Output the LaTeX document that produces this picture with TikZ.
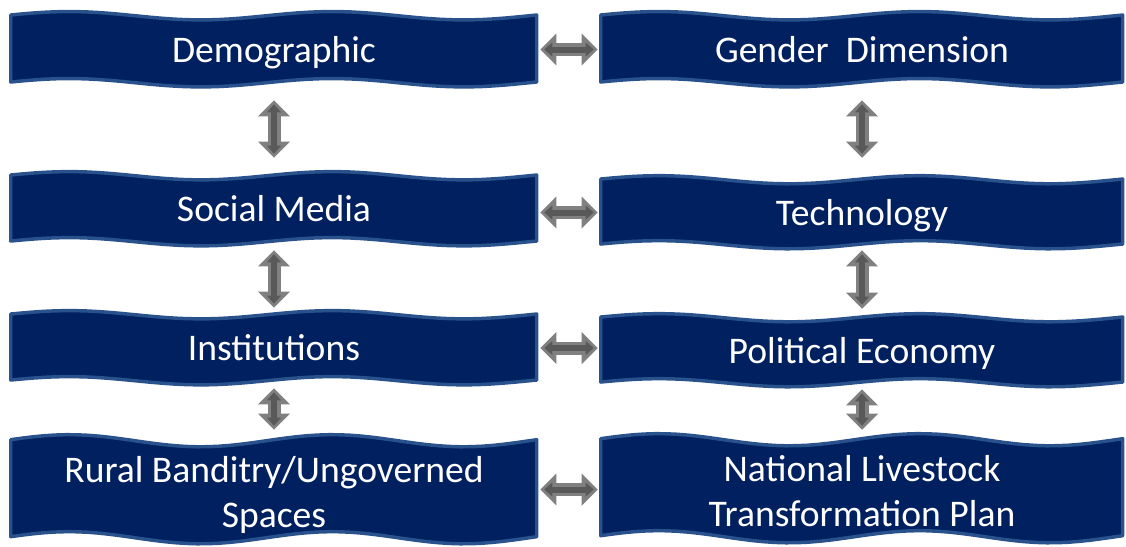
\documentclass[tikz,border=0pt]{standalone}
\usepackage{fontspec}
\setmainfont{Carlito}
\usepackage{tikz}
\usetikzlibrary{calc,arrows.meta,backgrounds}

\tikzset{
  wavetext/.style={inner sep=0pt, text=white, align=center, font=\fontsize{28.2}{33.75}\selectfont, text height=23.8pt, text depth=5pt},
  twolines/.style={text height=61.25pt, text depth=5pt},
  wavefill/.style={fill={rgb, 255:red, 0; green, 32; blue, 96}, draw={rgb, 255:red, 41; green, 82; blue, 140}, line width=2.6pt, line join=round},
  link/.style 2 args={draw={rgb, 255:red, 128; green, 128; blue, 128}, line width=9.75pt,
    {Triangle[length=12pt 0 0, width=24pt 0 0, line width=0pt 0 0]}-{Triangle[length=12pt 0 0, width=24pt 0 0, line width=0pt 0 0]},
    shorten <=#1, shorten >=#2,
    postaction={draw={rgb, 255:red, 89; green, 89; blue, 89}, line width=4.5pt,
      {Triangle[length=6pt 0 0, width=10.5pt 0 0, line width=0pt 0 0]}-{Triangle[length=6pt 0 0, width=10.5pt 0 0, line width=0pt 0 0]},
      shorten <={#1+3pt}, shorten >={#2+3pt}}}
}

% wavy band behind a node: #1 node, #2 width, #3 height (wave depth grows with height)
\newcommand{\wavebg}[3]{%
  \path[wavefill, shift={(#1.north west)}] plot[domain=0:#2, samples=49] (\x,{-0.0625*#3*sin(720*(\x/#2)+10)})
    -- plot[domain=#2:0, samples=49] (\x,{#3-0.0625*#3*sin(720*(\x/#2)+10)}) -- cycle;}

\begin{document}
\begin{tikzpicture}[x=0.75pt,y=0.75pt,yscale=-1,xscale=1]
      \useasboundingbox (0,0) rectangle (1126,546);

      % Text Node
      \node [wavetext, minimum width=394.5pt, minimum height=50.25pt] (demo) at (274,49.5) {Demographic};
      % Text Node
      \node [wavetext, minimum width=394.5pt, minimum height=49.5pt] (social) at (274,209) {Social Media};
      % Text Node
      \node [wavetext, minimum width=394.5pt, minimum height=49.5pt] (inst) at (274,348) {Institutions};
      % Text Node
      \node [wavetext, twolines, minimum width=394.5pt, minimum height=72.75pt] (rural) at (274,489.5) {Rural Banditry/Ungoverned\\Spaces};
      % Text Node
      \node [wavetext, minimum width=391.5pt, minimum height=50.25pt] (gender) at (862,49.5) {Gender~ Dimension};
      % Text Node
      \node [wavetext, minimum width=391.5pt, minimum height=48.75pt] (tech) at (862,212.5) {Technology};
      % Text Node
      \node [wavetext, minimum width=391.5pt, minimum height=48.75pt] (polit) at (862,350.5) {Political Economy};
      % Text Node
      \node [wavetext, twolines, minimum width=391.5pt, minimum height=72.75pt] (nltp) at (862,488.5) {National Livestock\\Transformation Plan};

      %Shape: Wave
      \begin{scope}[on background layer]
        \wavebg{demo}{526}{67}
        \wavebg{social}{526}{66}
        \wavebg{inst}{526}{66}
        \wavebg{rural}{526}{97}
        \wavebg{gender}{522}{67}
        \wavebg{tech}{522}{65}
        \wavebg{polit}{522}{65}
        \wavebg{nltp}{522}{97}
      \end{scope}

      %Up Down Arrow
      \draw [link={12.75pt}{13.5pt}] (demo) -- (social) ;
      \draw [link={6pt}{5.25pt}] (social) -- (inst) ;
      \draw [link={5.25pt}{8.25pt}] (inst) -- (rural) ;
      \draw [link={12.75pt}{16.5pt}] (gender) -- (tech) ;
      \draw [link={3.75pt}{6.75pt}] (tech) -- (polit) ;
      \draw [link={4.5pt}{7.5pt}] (polit) -- (nltp) ;

      %Left Right Arrow
      \draw [link={2.25pt}{2.25pt}] (demo.east) -- (demo.east -| gender.west) ;
      \draw [link={2.25pt}{2.25pt}] (social.east |- tech.west) -- (tech.west) ;
      \draw [link={2.25pt}{2.25pt}] (inst.east) -- (inst.east -| polit.west) ;
      \draw [link={2.25pt}{2.25pt}] (rural.east) -- (rural.east -| nltp.west) ;
    \end{tikzpicture}
\end{document}
